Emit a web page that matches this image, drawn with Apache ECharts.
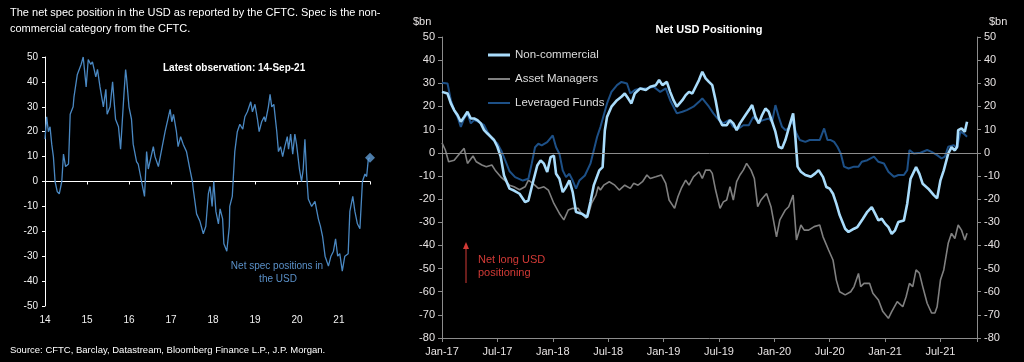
<!DOCTYPE html>
<html><head><meta charset="utf-8">
<script src="https://cdn.jsdelivr.net/npm/echarts@6/dist/echarts.min.js"></script>
<style>html,body{margin:0;padding:0;background:#000;}#c{width:1024px;height:362px;}</style>
</head><body><div id="c"></div>
<script>
// ---------- Left chart: net spec position (decimal year, value) ----------
const specPositions = [
[2014.00,17],[2014.04,26],[2014.08,20],[2014.12,22],[2014.16,15],[2014.20,10],[2014.24,0],[2014.29,-4],[2014.34,-5],[2014.40,0],
[2014.44,11],[2014.49,6],[2014.56,7],[2014.60,27],[2014.67,30],[2014.69,34],[2014.77,43],[2014.86,47],[2014.91,50],[2014.98,38],
[2015.03,49],[2015.09,47],[2015.13,48],[2015.21,42],[2015.25,45],[2015.31,38],[2015.39,30],[2015.45,37],[2015.48,27],[2015.55,30],
[2015.61,40],[2015.68,25],[2015.75,22],[2015.80,13],[2015.88,35],[2015.92,45],[2015.94,42],[2016.00,30],[2016.06,25],[2016.10,15],
[2016.18,8],[2016.22,7],[2016.30,0],[2016.37,-6],[2016.42,12],[2016.46,5],[2016.58,14],[2016.62,10],[2016.70,6],[2016.86,20],
[2016.90,23],[2016.98,29],[2017.02,24],[2017.06,27],[2017.13,20],[2017.17,14],[2017.23,18],[2017.29,15],[2017.37,12],[2017.45,5],
[2017.51,0],[2017.53,-3],[2017.61,-13],[2017.69,-16],[2017.77,-21],[2017.83,-18],[2017.89,-5],[2017.93,-2],[2017.98,-10],[2018.02,0],
[2018.07,-12],[2018.13,-17],[2018.17,-11],[2018.23,-15],[2018.26,-25],[2018.33,-28],[2018.39,-18],[2018.40,-10],[2018.46,-6],[2018.48,0],
[2018.52,12],[2018.58,20],[2018.64,23],[2018.71,21],[2018.76,26],[2018.82,28],[2018.90,32],[2018.94,28],[2019.00,31],[2019.06,25],
[2019.10,20],[2019.16,24],[2019.22,26],[2019.25,24],[2019.32,30],[2019.36,35],[2019.40,30],[2019.45,31],[2019.52,20],[2019.56,12],
[2019.61,14],[2019.66,10],[2019.71,14],[2019.77,18],[2019.80,13],[2019.85,19],[2019.90,11],[2019.95,19],[2019.99,15],[2020.06,5],
[2020.11,0],[2020.15,5],[2020.19,17],[2020.23,3],[2020.27,-7],[2020.35,-10],[2020.43,-8],[2020.51,-15],[2020.56,-18],[2020.61,-22],
[2020.67,-30],[2020.75,-34],[2020.81,-30],[2020.87,-28],[2020.92,-23],[2020.97,-30],[2021.02,-29],[2021.08,-36],[2021.14,-30],[2021.22,-29],
[2021.26,-12],[2021.33,-6],[2021.38,-12],[2021.44,-17],[2021.50,-19],[2021.56,0],[2021.60,0],[2021.62,3],[2021.66,2],[2021.70,9],[2021.74,9.5]
];
const leftYearLabels = ['14','15','16','17','18','19','20','21'];
const latestObservation = '14-Sep-21';

// ---------- Right chart: Net USD positioning, $bn (decimal year, value) ----------
const rightDateLabels = ['Jan-17','Jul-17','Jan-18','Jul-18','Jan-19','Jul-19','Jan-20','Jul-20','Jan-21','Jul-21'];
const nonCommercial = [
[2017.00,26.3],[2017.05,25.6],[2017.08,21.3],[2017.11,18.4],[2017.14,16.3],[2017.17,13.4],[2017.20,15.5],[2017.23,17.7],[2017.26,14.8],[2017.29,14.8],
[2017.32,14.1],[2017.35,12.7],[2017.38,9.8],[2017.41,8.3],[2017.44,6.9],[2017.47,5.5],[2017.50,2.6],[2017.53,-1.7],[2017.56,-9.8],[2017.61,-15.5],
[2017.65,-16.3],[2017.70,-17.7],[2017.75,-21.3],[2017.78,-20.6],[2017.81,-14.8],[2017.86,-5.5],[2017.89,-3.3],[2017.92,-4.7],[2017.95,-8.3],[2017.98,-1.9],
[2018.01,-1.2],[2018.03,-9.1],[2018.06,-11.2],[2018.09,-17],[2018.12,-14.8],[2018.15,-11.9],[2018.18,-17],[2018.21,-25.6],[2018.26,-26.3],[2018.31,-27.8],
[2018.34,-21.3],[2018.37,-14.1],[2018.42,-7.6],[2018.45,-6.2],[2018.47,9.6],[2018.49,15.5],[2018.53,19.9],[2018.58,22.7],[2018.62,24.2],[2018.65,25.6],
[2018.68,23.5],[2018.71,21.3],[2018.74,25.6],[2018.79,27.8],[2018.84,27.1],[2018.88,28.5],[2018.93,29.2],[2018.96,31.4],[2018.99,29.2],[2019.03,30.6],
[2019.06,26.3],[2019.09,22.7],[2019.12,19.9],[2019.17,22.7],[2019.20,24.9],[2019.23,26.3],[2019.26,25.6],[2019.29,28.5],[2019.32,31.4],[2019.35,35.0],
[2019.38,32.1],[2019.41,30.6],[2019.44,29.2],[2019.47,22.7],[2019.50,14.8],[2019.53,11.9],[2019.57,11.9],[2019.60,14.1],[2019.63,12.7],[2019.66,9.8],
[2019.69,12.7],[2019.74,16.3],[2019.78,19.1],[2019.80,20.6],[2019.83,15.5],[2019.86,12.7],[2019.89,16.3],[2019.92,19.1],[2019.95,17.7],[2019.98,13.4],
[2020.01,9.1],[2020.04,2.6],[2020.07,1.9],[2020.10,5.5],[2020.13,10.5],[2020.17,17.0],[2020.19,6.9],[2020.21,-6.0],[2020.24,-8.2],[2020.28,-9.6],
[2020.33,-10.4],[2020.37,-8.9],[2020.40,-7.5],[2020.44,-10.5],[2020.47,-14.8],[2020.50,-15.5],[2020.53,-17.7],[2020.56,-22.0],[2020.59,-26.9],[2020.64,-32.8],
[2020.67,-34.2],[2020.72,-32.8],[2020.75,-32.1],[2020.80,-28.5],[2020.84,-25.5],[2020.88,-23.5],[2020.91,-26.3],[2020.94,-29.2],[2020.97,-28.5],[2021.00,-30.6],
[2021.03,-32.1],[2021.06,-35.0],[2021.09,-33.5],[2021.12,-29.9],[2021.17,-29.2],[2021.20,-22.0],[2021.23,-11.2],[2021.28,-6.2],[2021.31,-9.1],[2021.34,-13.4],
[2021.39,-15.5],[2021.44,-18.3],[2021.47,-19.7],[2021.50,-11.9],[2021.53,-7.6],[2021.57,-0.4],[2021.60,2.4],[2021.63,1.0],[2021.65,2.6],[2021.66,9.8],
[2021.69,10.5],[2021.72,9.1],[2021.74,13.4]
];
const assetManagers = [
[2017.00,4.3],[2017.03,1.2],[2017.06,-3.9],[2017.11,-3.2],[2017.16,-0.3],[2017.20,1.9],[2017.23,-4.6],[2017.28,-1.4],[2017.31,-3.9],[2017.36,-5.3],
[2017.40,-6.0],[2017.45,-5.3],[2017.48,-7.5],[2017.53,-10.4],[2017.58,-12.5],[2017.61,-14.0],[2017.65,-14.7],[2017.70,-16.0],[2017.75,-14.7],[2017.78,-11.8],
[2017.82,-13.2],[2017.87,-15.4],[2017.92,-14.7],[2017.96,-16.1],[2018.01,-21.9],[2018.06,-26.2],[2018.10,-29.0],[2018.14,-24.7],[2018.18,-24.0],[2018.23,-24.0],
[2018.26,-26.2],[2018.30,-28.3],[2018.32,-26.9],[2018.35,-21.9],[2018.39,-18.3],[2018.41,-14.7],[2018.43,-16.1],[2018.46,-14.0],[2018.51,-12.5],[2018.56,-14.0],
[2018.60,-16.1],[2018.65,-14.0],[2018.70,-15.4],[2018.73,-13.2],[2018.77,-14.0],[2018.81,-12.5],[2018.85,-9.6],[2018.88,-11.1],[2018.93,-10.4],[2018.98,-9.6],
[2019.02,-13.2],[2019.05,-20.4],[2019.10,-24.0],[2019.13,-19.0],[2019.16,-15.4],[2019.20,-11.8],[2019.23,-14.0],[2019.27,-10.4],[2019.32,-8.2],[2019.35,-11.1],
[2019.38,-7.5],[2019.42,-7.5],[2019.44,-8.9],[2019.47,-16.1],[2019.51,-24.0],[2019.54,-21.2],[2019.57,-20.4],[2019.60,-14.7],[2019.63,-20.4],[2019.66,-12.5],
[2019.69,-9.6],[2019.72,-7.5],[2019.75,-4.6],[2019.79,-7.5],[2019.82,-11.1],[2019.85,-23.3],[2019.88,-20.4],[2019.93,-17.6],[2019.97,-23.3],[2020.02,-36.3],
[2020.05,-29.0],[2020.10,-24.7],[2020.13,-23.3],[2020.17,-18.3],[2020.20,-37.7],[2020.24,-31.2],[2020.27,-33.4],[2020.31,-33.4],[2020.36,-31.9],[2020.41,-31.2],
[2020.44,-36.3],[2020.49,-42.0],[2020.53,-46.3],[2020.56,-55.0],[2020.59,-60.0],[2020.64,-61.4],[2020.69,-60.0],[2020.72,-57.8],[2020.76,-52.1],[2020.78,-57.8],
[2020.81,-56.4],[2020.86,-56.4],[2020.89,-60.7],[2020.94,-63.6],[2020.98,-68.6],[2021.03,-71.5],[2021.06,-68.6],[2021.11,-64.3],[2021.16,-66.5],[2021.19,-62.2],
[2021.22,-56.4],[2021.25,-57.8],[2021.28,-50.6],[2021.31,-52.0],[2021.34,-57.8],[2021.38,-65.0],[2021.42,-69.2],[2021.45,-69.2],[2021.47,-66.5],[2021.50,-55.0],
[2021.53,-50.6],[2021.57,-39.1],[2021.60,-34.8],[2021.63,-37.0],[2021.66,-31.2],[2021.69,-33.4],[2021.72,-37.7],[2021.74,-34.8]
];
const leveragedFunds = [
[2017.00,30.2],[2017.05,29.9],[2017.08,22.7],[2017.11,18.4],[2017.14,15.5],[2017.17,11.2],[2017.20,14.8],[2017.23,17.0],[2017.26,12.7],[2017.29,14.1],
[2017.33,13.4],[2017.38,11.9],[2017.41,9.1],[2017.45,6.2],[2017.50,4.0],[2017.54,0.4],[2017.57,-3.2],[2017.61,-8.0],[2017.66,-10.5],[2017.73,-12.0],
[2017.78,-11.2],[2017.81,-4.7],[2017.84,2.4],[2017.87,3.9],[2017.90,3.2],[2017.95,4.6],[2018.00,7.5],[2018.03,2.4],[2018.06,-0.4],[2018.09,-7.6],
[2018.12,-10.5],[2018.15,-9.1],[2018.18,-12.0],[2018.21,-15.5],[2018.24,-12.0],[2018.29,-9.8],[2018.34,-4.7],[2018.37,1.0],[2018.40,6.8],[2018.43,11.1],
[2018.49,21.3],[2018.53,26.3],[2018.58,29.2],[2018.62,30.6],[2018.67,29.9],[2018.70,25.6],[2018.74,27.1],[2018.79,27.8],[2018.85,27.8],[2018.91,28.5],
[2018.97,26.3],[2019.02,27.8],[2019.06,22.7],[2019.09,19.9],[2019.12,17.0],[2019.17,17.7],[2019.21,18.4],[2019.27,19.9],[2019.32,22.0],[2019.35,23.5],
[2019.41,19.9],[2019.45,17.0],[2019.50,14.1],[2019.54,12.7],[2019.59,14.1],[2019.63,11.2],[2019.68,10.5],[2019.72,11.9],[2019.77,11.9],[2019.81,15.5],
[2019.86,13.4],[2019.90,14.1],[2019.95,14.8],[2019.98,13.4],[2020.01,20.6],[2020.04,15.5],[2020.07,11.2],[2020.10,9.8],[2020.13,10.5],[2020.16,14.1],
[2020.20,8.3],[2020.23,5.5],[2020.28,4.7],[2020.32,5.5],[2020.37,5.5],[2020.41,5.5],[2020.45,10.5],[2020.48,5.5],[2020.51,5.5],[2020.54,4.7],
[2020.57,2.6],[2020.60,-0.3],[2020.63,-6.0],[2020.67,-6.8],[2020.72,-6.0],[2020.76,-6.0],[2020.79,-3.9],[2020.84,-3.2],[2020.90,-1.7],[2020.94,-3.9],
[2020.99,-4.6],[2021.03,-8.2],[2021.08,-10.4],[2021.12,-9.6],[2021.17,-9.6],[2021.20,-7.5],[2021.22,1.2],[2021.26,-0.3],[2021.32,0.0],[2021.38,1.2],
[2021.42,0.4],[2021.47,-1.0],[2021.51,-2.4],[2021.54,-1.7],[2021.57,2.6],[2021.62,3.3],[2021.65,1.9],[2021.68,9.1],[2021.71,8.3],[2021.74,6.9]
];

const FONT = '"Liberation Sans", Arial, sans-serif';
const chart = echarts.init(document.getElementById('c'), null, {renderer: 'canvas'});

function leftYearFmt(v) {
  const i = Math.round(v - 2014);
  return Math.abs(v - (2014 + i)) < 1e-6 && leftYearLabels[i] !== undefined ? leftYearLabels[i] : '';
}
function rightDateFmt(v) {
  const i = Math.round((v - 2017) / 0.5);
  return Math.abs(v - (2017 + i * 0.5)) < 1e-6 && rightDateLabels[i] !== undefined ? rightDateLabels[i] : '';
}

const txt = (text, x, y, opts) => Object.assign({
  type: 'text', silent: true,
  style: Object.assign({text, x, y, fill: '#ffffff', font: '11px ' + FONT, textAlign: 'left', textVerticalAlign: 'middle', verticalAlign: 'middle'}, opts || {})
});

const option = {
  animation: false,
  backgroundColor: '#000000',
  textStyle: {fontFamily: FONT},
  grid: [
    {left: 45, top: 57, width: 325, height: 249},
    {left: 442, top: 37, width: 535, height: 301}
  ],
  xAxis: [
    {gridIndex: 0, type: 'value', min: 2014, max: 2021.74, interval: 1, position: 'bottom',
     axisLine: {onZero: true, lineStyle: {color: '#ffffff', width: 1}},
     axisTick: {show: true, length: 3, lineStyle: {color: '#ffffff'}},
     axisLabel: {show: false}, splitLine: {show: false}},
    {gridIndex: 0, type: 'value', min: 2014, max: 2021.74, interval: 1, position: 'bottom',
     axisLine: {show: false, onZero: false}, axisTick: {show: false},
     axisLabel: {color: '#f2f2f2', fontSize: 10, margin: 9, formatter: leftYearFmt, fontFamily: FONT},
     splitLine: {show: false}},
    {gridIndex: 1, type: 'value', min: 2017, max: 2021.83, interval: 0.5, position: 'bottom',
     axisLine: {onZero: false, lineStyle: {color: '#8c8c8c', width: 1}},
     axisTick: {show: true, length: 4, lineStyle: {color: '#8c8c8c'}},
     axisLabel: {color: '#e6e2e2', fontSize: 11, margin: 8, formatter: rightDateFmt, fontFamily: FONT},
     splitLine: {show: false}}
  ],
  yAxis: [
    {gridIndex: 0, type: 'value', min: -50, max: 50, interval: 10,
     axisLine: {show: true, onZero: false, lineStyle: {color: '#ffffff'}},
     axisTick: {show: true, length: 3, lineStyle: {color: '#ffffff'}},
     axisLabel: {color: '#f2f2f2', fontSize: 10, margin: 7, fontFamily: FONT},
     splitLine: {show: false}},
    {gridIndex: 1, type: 'value', min: -80, max: 50, interval: 10, position: 'left',
     axisLine: {show: true, onZero: false, lineStyle: {color: '#8c8c8c'}},
     axisTick: {show: true, length: 4, lineStyle: {color: '#8c8c8c'}},
     axisLabel: {color: '#e6e2e2', fontSize: 11, margin: 7, fontFamily: FONT},
     splitLine: {show: false}},
    {gridIndex: 1, type: 'value', min: -80, max: 50, interval: 10, position: 'right',
     axisLine: {show: true, onZero: false, lineStyle: {color: '#8c8c8c'}},
     axisTick: {show: true, length: 4, lineStyle: {color: '#8c8c8c'}},
     axisLabel: {color: '#e6e2e2', fontSize: 11, margin: 7, fontFamily: FONT},
     splitLine: {show: false}}
  ],
  legend: {
    data: [
      {name: 'Non-commercial', icon: 'path://M0,0H22V3H0Z'},
      {name: 'Asset Managers', icon: 'path://M0,0H22V2H0Z'},
      {name: 'Leveraged Funds', icon: 'path://M0,0H22V2H0Z'}
    ],
    orient: 'vertical', left: 483, top: 44,
    itemWidth: 22, itemHeight: 14, itemGap: 12,
    symbolKeepAspect: true,
    textStyle: {color: '#dcdcdc', fontSize: 11.5, fontFamily: FONT},
    selectedMode: false
  },
  series: [
    {name: 'Net spec positions', type: 'line', xAxisIndex: 0, yAxisIndex: 0, data: specPositions,
     symbol: 'none', lineStyle: {color: '#4a88c2', width: 1.3}, itemStyle: {color: '#4a88c2'}, z: 3},
    {name: 'Latest', type: 'scatter', xAxisIndex: 0, yAxisIndex: 0, data: [specPositions[specPositions.length - 1]],
     symbol: 'diamond', symbolSize: 10, itemStyle: {color: '#5f9bd3'}, z: 4},
    {name: 'Asset Managers', type: 'line', xAxisIndex: 2, yAxisIndex: 1, data: assetManagers,
     symbol: 'none', lineStyle: {color: '#808080', width: 1.6}, itemStyle: {color: '#808080'}, z: 2,
     markLine: {silent: true, symbol: 'none', label: {show: false},
       lineStyle: {color: '#8c8c8c', width: 1, type: 'solid'}, data: [{yAxis: 0}]}},
    {name: 'Leveraged Funds', type: 'line', xAxisIndex: 2, yAxisIndex: 1, data: leveragedFunds,
     symbol: 'none', lineStyle: {color: '#1d5087', width: 2}, itemStyle: {color: '#1d5087'}, z: 3},
    {name: 'Non-commercial', type: 'line', xAxisIndex: 2, yAxisIndex: 1, data: nonCommercial,
     symbol: 'none', lineStyle: {color: '#a9dcfb', width: 2.6}, itemStyle: {color: '#a9dcfb'}, z: 4}
  ],
  graphic: [
    txt('The net spec position in the USD as reported by the CFTC. Spec is the non-', 10, 12.5, {font: '11px ' + FONT}),
    txt('commercial category from the CFTC.', 10, 28.5, {font: '11px ' + FONT}),
    txt('Latest observation:', 163, 68, {font: 'bold 10px ' + FONT}),
    txt(latestObservation, 258, 68, {font: 'bold 10px ' + FONT}),
    txt('Net spec positions in', 277, 266, {font: '10px ' + FONT, fill: '#5a90c8', textAlign: 'center'}),
    txt('the USD', 278, 279, {font: '10px ' + FONT, fill: '#5a90c8', textAlign: 'center'}),
    txt('Source: CFTC, Barclay, Datastream, Bloomberg Finance L.P., J.P. Morgan.', 10, 350, {font: '9.5px ' + FONT}),
    txt('$bn', 413, 22, {font: '11px ' + FONT, fill: '#e6e2e2'}),
    txt('$bn', 989, 22, {font: '11px ' + FONT, fill: '#e6e2e2'}),
    txt('Net USD Positioning', 709, 30, {font: 'bold 11px ' + FONT, textAlign: 'center'}),
    txt('Net long USD', 478, 260, {font: '11px ' + FONT, fill: '#d23a36'}),
    txt('positioning', 478, 273, {font: '11px ' + FONT, fill: '#d23a36'}),
    {type: 'line', silent: true, shape: {x1: 466, y1: 283, x2: 466, y2: 247}, style: {stroke: '#d23a36', lineWidth: 1}},
    {type: 'polygon', silent: true, shape: {points: [[466, 242], [463, 249], [469, 249]]}, style: {fill: '#d23a36'}}
  ]
};
chart.setOption(option);
</script>
</body></html>
